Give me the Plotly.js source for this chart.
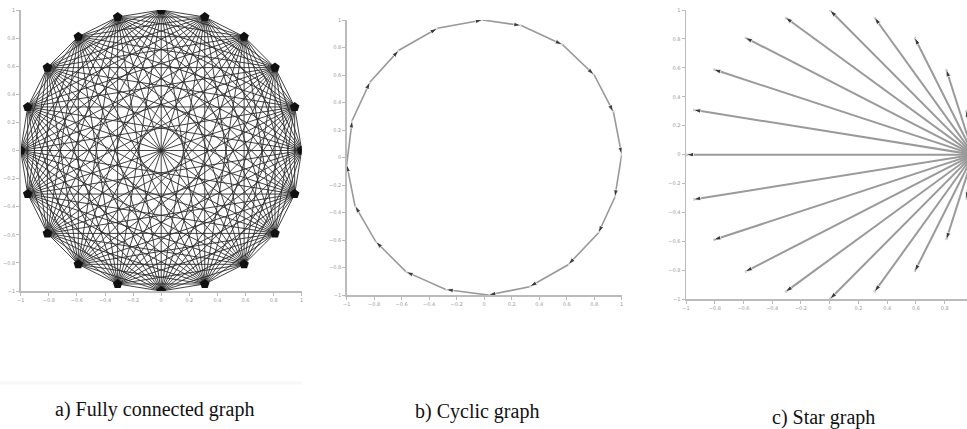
<!DOCTYPE html>
<html>
<head>
<meta charset="utf-8">
<script src="https://cdn.plot.ly/plotly-3.0.1.min.js"></script>
<style>html,body{margin:0;padding:0;background:#fff}#chart{width:967px;height:429px}</style>
</head>
<body>
<div id="chart"></div>
<script>
// ---- Data ----
// a) Fully connected graph: 20 nodes
const fcX = [1, 0.95, 0.81, 0.59, 0.31, 0, -0.31, -0.59, -0.81, -0.95, -1, -0.95, -0.81, -0.59, -0.31, 0, 0.31, 0.59, 0.81, 0.95];
const fcY = [0, 0.31, 0.59, 0.81, 0.95, 1, 0.95, 0.81, 0.59, 0.31, 0, -0.31, -0.59, -0.81, -0.95, -1, -0.95, -0.81, -0.59, -0.31];
// b) Cyclic graph: 20 nodes in cycle order
const cycX = [-0.01, 0.27, 0.57, 0.80, 0.94, 1.00, 0.95, 0.83, 0.61, 0.33, 0.03, -0.28, -0.57, -0.79, -0.94, -1.00, -0.96, -0.83, -0.62, -0.34];
const cycY = [1.00, 0.96, 0.82, 0.60, 0.33, 0.02, -0.29, -0.55, -0.78, -0.94, -1.00, -0.96, -0.83, -0.61, -0.35, -0.05, 0.27, 0.55, 0.78, 0.94];
// c) Star graph: hub and 19 leaves
const hubX = 1, hubY = 0;
const starX = [0.95, 0.81, 0.59, 0.31, 0, -0.31, -0.59, -0.81, -0.95, -1, -0.95, -0.81, -0.59, -0.31, 0, 0.31, 0.59, 0.81, 0.95];
const starY = [0.31, 0.59, 0.81, 0.95, 1, 0.95, 0.81, 0.59, 0.31, 0, -0.31, -0.59, -0.81, -0.95, -1, -0.95, -0.81, -0.59, -0.31];
// Tick values and captions
const tickVals = [-1, -0.8, -0.6, -0.4, -0.2, 0, 0.2, 0.4, 0.6, 0.8, 1];
const captions = ["a) Fully connected graph", "b) Cyclic graph", "c) Star graph"];

// ---- Build traces ----
const fcLx = [], fcLy = [];
for (let i = 0; i < fcX.length; i++) {
  for (let j = i + 1; j < fcX.length; j++) {
    fcLx.push(fcX[i], fcX[j], null);
    fcLy.push(fcY[i], fcY[j], null);
  }
}
const traces = [];
traces.push({x: fcLx, y: fcLy, xaxis: 'x', yaxis: 'y', mode: 'lines', type: 'scatter',
  line: {color: '#2a2a2a', width: 0.9}, hoverinfo: 'skip'});
traces.push({x: fcX, y: fcY, xaxis: 'x', yaxis: 'y', mode: 'markers', type: 'scatter',
  marker: {color: '#111', size: 10, symbol: 'pentagon'}, hoverinfo: 'skip'});

const cx = cycX.concat([cycX[0]]), cy = cycY.concat([cycY[0]]);
traces.push({x: cx, y: cy, xaxis: 'x2', yaxis: 'y2', mode: 'lines', type: 'scatter',
  line: {color: '#999', width: 1.6}, hoverinfo: 'skip'});
traces.push({x: cx, y: cy, xaxis: 'x2', yaxis: 'y2', mode: 'markers', type: 'scatter',
  marker: {color: '#111', size: cx.map((v, i) => i === 0 ? 0 : 8), symbol: 'arrow', angleref: 'previous'},
  hoverinfo: 'skip'});

const sx = [], sy = [], ss = [];
for (let i = 0; i < starX.length; i++) {
  sx.push(hubX, starX[i], null);
  sy.push(hubY, starY[i], null);
  ss.push(0, 8, 0);
}
traces.push({x: sx, y: sy, xaxis: 'x3', yaxis: 'y3', mode: 'lines', type: 'scatter',
  line: {color: '#9a9a9a', width: 2}, hoverinfo: 'skip'});
traces.push({x: sx, y: sy, xaxis: 'x3', yaxis: 'y3', mode: 'markers', type: 'scatter',
  marker: {color: '#111', size: ss, symbol: 'arrow', angleref: 'previous'}, hoverinfo: 'skip'});
traces.push({x: [hubX], y: [hubY], xaxis: 'x3', yaxis: 'y3', mode: 'markers', type: 'scatter',
  cliponaxis: false, marker: {color: '#555', size: 16}, hoverinfo: 'skip'});

function ax(domain, range, anchor) {
  return {domain: domain, range: range, anchor: anchor, showgrid: false, zeroline: false,
    showline: true, linecolor: '#bbb', linewidth: 1.5, ticks: 'outside', ticklen: 3, tickcolor: '#bbb',
    tickvals: tickVals, tickfont: {size: 5, color: '#999', family: 'DejaVu Sans'}, fixedrange: true};
}

const W = 967, H = 429;
function dx(a, b) { return [a / W, b / W]; }
function dy(top, bottom) { return [(H - bottom) / H, (H - top) / H]; }

const layout = {
  width: W, height: H, margin: {l: 0, r: 0, t: 0, b: 0}, showlegend: false,
  paper_bgcolor: '#fff', plot_bgcolor: '#fff',
  xaxis: ax(dx(20.7, 301.7), [-1, 1], 'y'),
  yaxis: ax(dy(10, 291), [-1, 1], 'x'),
  xaxis2: ax(dx(346.7, 621.7), [-1, 1], 'y2'),
  yaxis2: ax(dy(20, 295), [-1, 1], 'x2'),
  xaxis3: ax(dx(686, 967), [-1, 0.955], 'y3'),
  yaxis3: ax(dy(10, 299.3), [-1, 1], 'x3'),
  shapes: [{type: 'line', xref: 'paper', yref: 'paper', x0: 0, x1: 302 / W, y0: (H - 383) / H, y1: (H - 383) / H,
    line: {color: '#f7f7f7', width: 3}}],
  annotations: [
    {text: captions[0], x: 154 / W, y: (H - 409) / H},
    {text: captions[1], x: 477 / W, y: (H - 411.5) / H},
    {text: captions[2], x: 823 / W, y: (H - 417) / H}
  ].map(a => Object.assign({xref: 'paper', yref: 'paper', showarrow: false, xanchor: 'center', yanchor: 'middle',
    font: {family: 'Liberation Serif', size: 20, color: '#111'}}, a))
};

Plotly.newPlot('chart', traces, layout, {displayModeBar: false, staticPlot: true});
</script>
</body>
</html>
